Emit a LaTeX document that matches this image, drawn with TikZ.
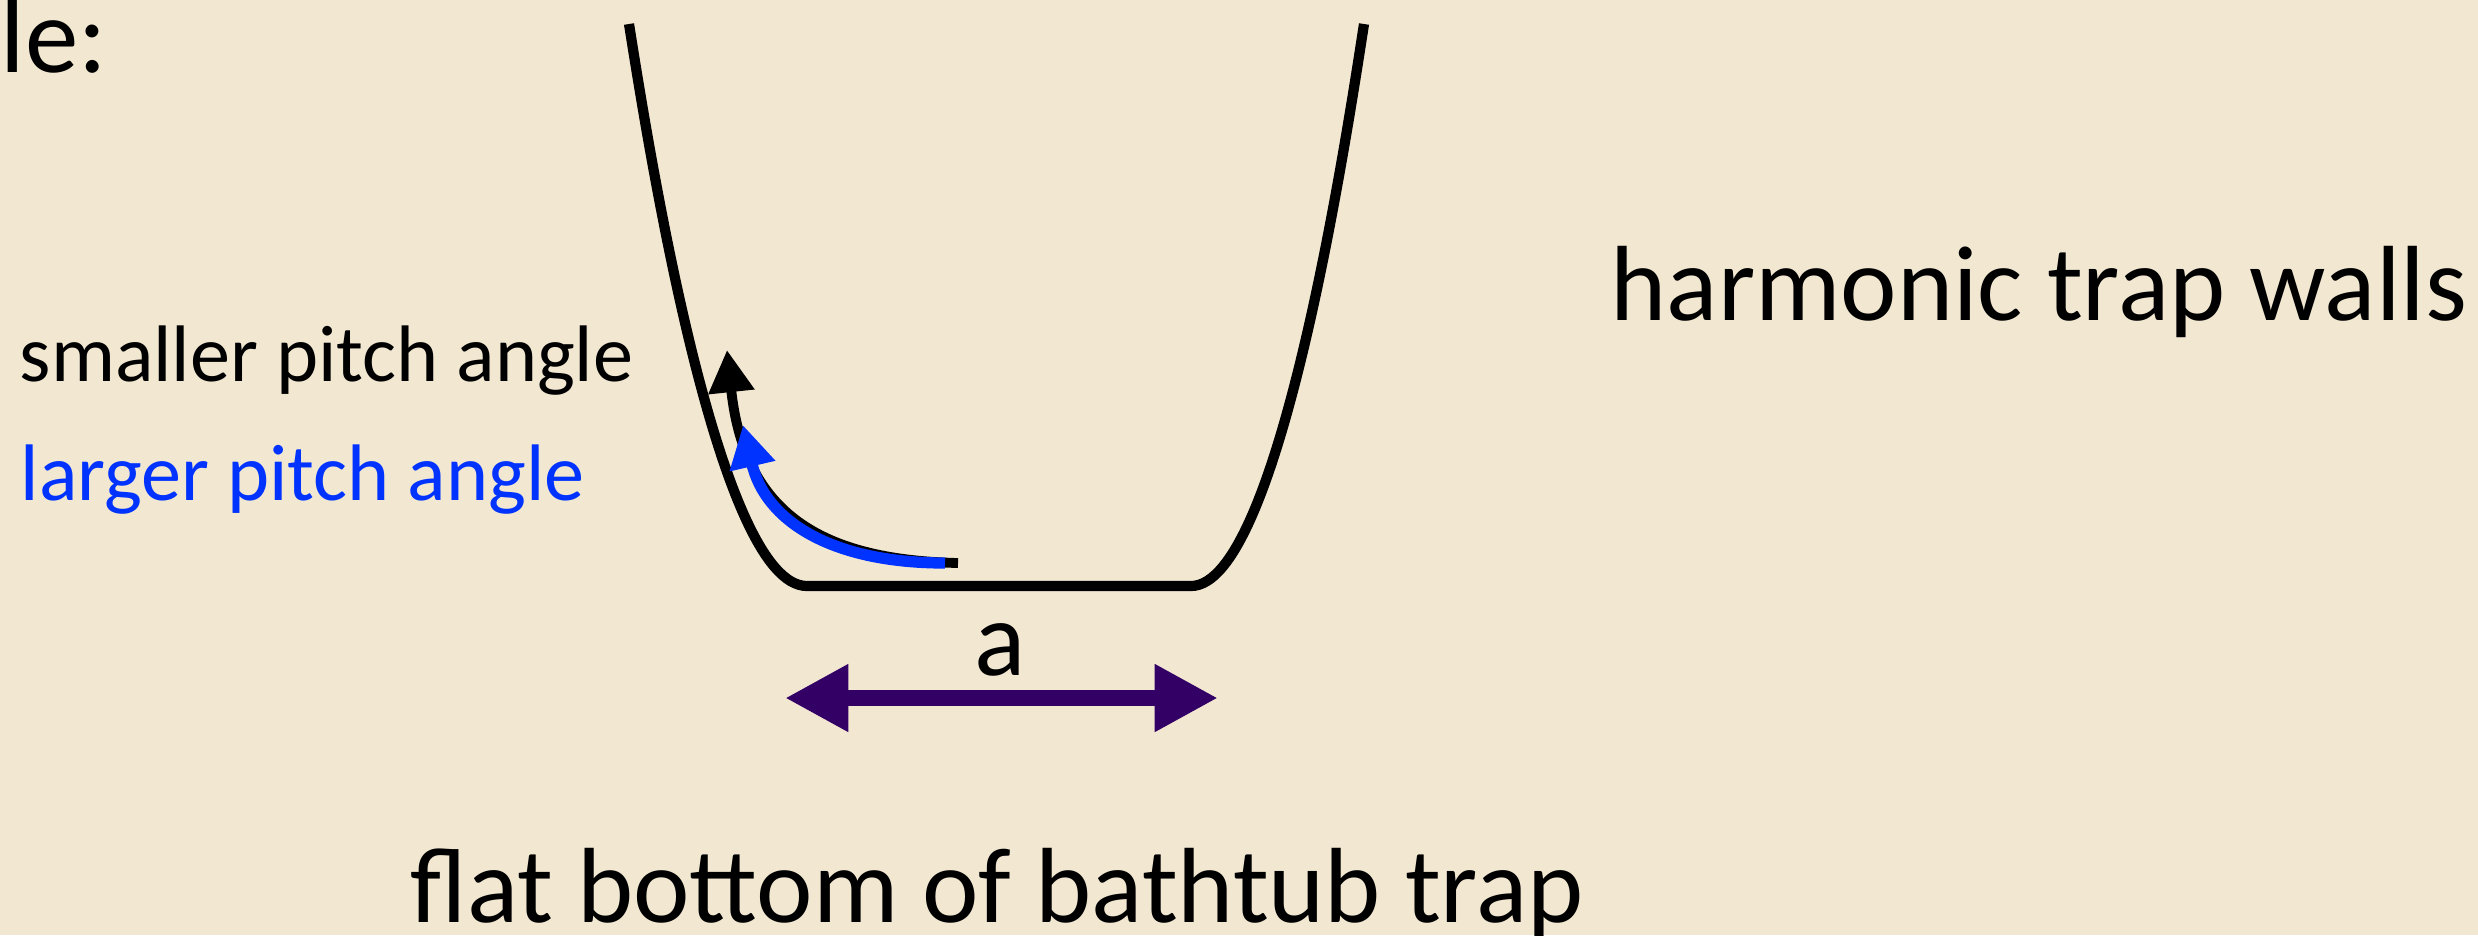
\documentclass[tikz,border=0pt]{standalone}
\usepackage{fontspec}
\setmainfont{Carlito}
\usepackage{xcolor}
\usetikzlibrary{arrows.meta}

\definecolor{tubbg}{RGB}{242,232,210}
\definecolor{pitchblue}{RGB}{0,51,255}
\definecolor{widthpurple}{RGB}{51,0,102}

\begin{document}
\begin{tikzpicture}[
    x=0.01cm, y=-0.01cm,
    wall/.style={line width=2.9pt, black},
    bigtext/.style={inner sep=0pt, anchor=base west, font=\fontsize{30.4}{36}\selectfont},
    smalltext/.style={inner sep=0pt, anchor=base west, font=\fontsize{22.8}{27}\selectfont},
    pitch/.style={line width=2.8pt, -{Triangle[length=12pt, width=12.5pt]}}
]
    % Background
    \fill[tubbg] (0,0) rectangle (2478,935);
    \useasboundingbox (0,0) rectangle (2478,935);

    % Harmonic walls and flat bottom
    \draw[wall] (629,24) parabola[bend at end] (807,586) -- (1191,586) parabola (1364,24);

    % Pitch angle trajectories
    \coordinate (smallStart) at (958,563);
    \coordinate (smallTip) at (727,350);
    \coordinate (largeStart) at (945,563);
    \coordinate (largeTip) at (743,425);
    \draw[pitch, black] (smallStart) .. controls (830,560) and (745,520) .. (smallTip);
    \draw[pitch, pitchblue, line width=3.2pt] (largeStart) .. controls (830,563) and (765,520) .. (largeTip);

    % Width of the flat bottom
    \coordinate (aLeft) at (785,698);
    \coordinate (aRight) at (1218,698);
    \draw[widthpurple, line width=4.8pt, {Triangle[length=18pt, width=18pt]}-{Triangle[length=18pt, width=18pt]}] (aLeft) -- (aRight);
    \node[bigtext, anchor=base] (widthLabel) at (1000,675) {a};

    % Labels
    \node[bigtext] (leLabel) at (0,72) {le:};
    \node[smalltext] (smallLabel) at (19,381) {smaller pitch angle};
    \node[smalltext, pitchblue] (largeLabel) at (20,500) {larger pitch angle};
    \node[bigtext] (wallsLabel) at (1610,320) {harmonic trap walls};
    \node[bigtext] (flatLabel) at (410,922) {flat bottom of bathtub trap};
\end{tikzpicture}
\end{document}
